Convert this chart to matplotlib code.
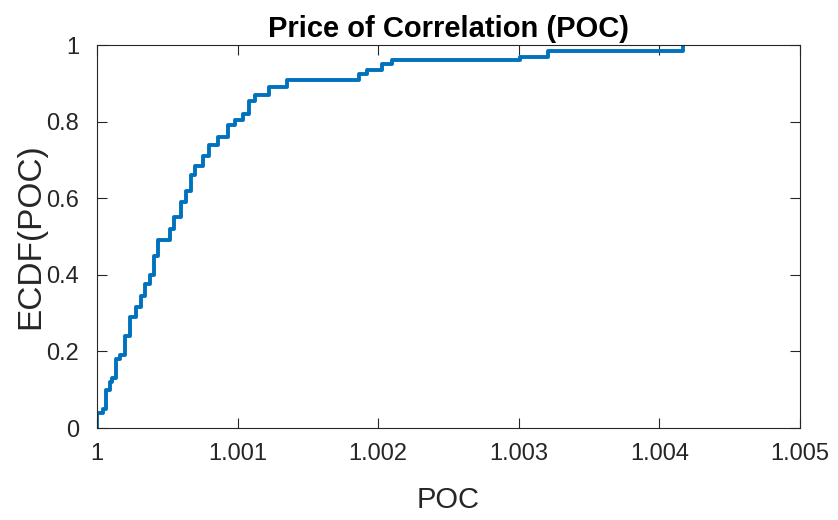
import matplotlib
matplotlib.use("Agg")
import matplotlib.pyplot as plt
from matplotlib import font_manager

# step positions (POC - 1, in units of 1e-3) and ECDF level after each step
poc_offset = [0.0, 0.0, 0.043, 0.062, 0.090, 0.109, 0.137, 0.161, 0.196, 0.232,
              0.279, 0.315, 0.338, 0.374, 0.402, 0.433, 0.516, 0.544, 0.598, 0.634,
              0.669, 0.700, 0.752, 0.799, 0.858, 0.929, 0.984, 1.040, 1.078, 1.126,
              1.225, 1.348, 1.863, 1.922, 2.028, 2.100, 3.010, 3.206, 4.168]
ecdf = [0.0, 0.04, 0.05, 0.10, 0.12, 0.13, 0.18, 0.19, 0.24, 0.29,
        0.315, 0.345, 0.375, 0.40, 0.45, 0.49, 0.52, 0.55, 0.59, 0.62,
        0.66, 0.685, 0.71, 0.74, 0.76, 0.79, 0.805, 0.82, 0.855, 0.87,
        0.89, 0.91, 0.925, 0.935, 0.95, 0.96, 0.97, 0.985, 1.0]
poc = [1 + d * 1e-3 for d in poc_offset]

xticks = [1, 1.001, 1.002, 1.003, 1.004, 1.005]
xticklabels = ["1", "1.001", "1.002", "1.003", "1.004", "1.005"]
yticks = [0, 0.2, 0.4, 0.6, 0.8, 1]
yticklabels = ["0", "0.2", "0.4", "0.6", "0.8", "1"]

names = {f.name for f in font_manager.fontManager.ttflist}
narrow = "Liberation Sans Narrow" if "Liberation Sans Narrow" in names else "Liberation Sans"

fig = plt.figure(figsize=(8.38, 5.2), dpi=100)
ax = fig.add_axes([0.1158, 0.1769, 0.8389, 0.7365])

ax.step(poc, ecdf, where="post", color="#0072BD", linewidth=2.8)

ax.set_xlim(1, 1.005)
ax.set_ylim(0, 1)
ax.set_xticks(xticks)
ax.set_xticklabels(xticklabels, fontfamily=narrow, fontsize=17, color="#262626")
ax.set_yticks(yticks)
ax.set_yticklabels(yticklabels, fontfamily=narrow, fontsize=17, color="#262626")
ax.tick_params(direction="in", length=7, width=0.8, top=True, right=True,
               colors="#262626")
ax.tick_params(axis="x", pad=11)
ax.tick_params(axis="y", pad=13)
for s in ax.spines.values():
    s.set_color("#262626")
    s.set_linewidth(0.8)

ax.set_title("Price of Correlation (POC)", fontfamily="Liberation Sans",
             fontweight="bold", fontsize=21, pad=6)
ax.set_xlabel("POC", fontfamily=narrow, fontsize=21, color="#262626", labelpad=15)
ax.set_ylabel("ECDF(POC)", fontfamily=narrow, fontsize=24, color="#262626")
ax.yaxis.set_label_coords(-0.072, 0.5)

fig.savefig("out.png", dpi=100, facecolor="white")
